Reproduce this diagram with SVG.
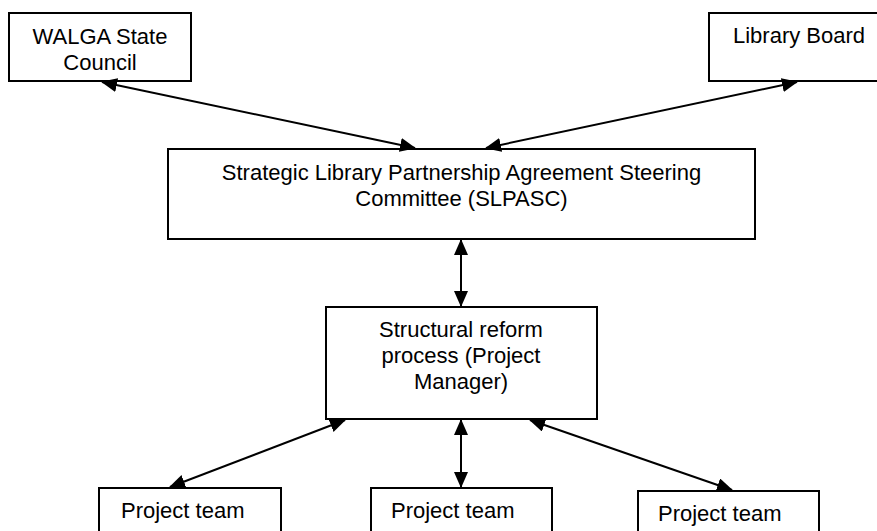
<svg xmlns="http://www.w3.org/2000/svg" width="877" height="531" viewBox="0 0 877 531">
<style>
.box{fill:#fff;stroke:#000;stroke-width:2}
.t{font-family:"Liberation Sans",Arial,sans-serif;font-size:22px;fill:#000}
.c{text-anchor:middle}
.conn line{stroke:#000;stroke-width:2;marker-start:url(#ah);marker-end:url(#ah)}
</style>
<defs>
<marker id="ah" markerUnits="userSpaceOnUse" markerWidth="16" markerHeight="14" viewBox="0 0 16 14" refX="15" refY="7" orient="auto-start-reverse">
<path d="M0,0 L16,7 L0,14 z" fill="#000"/>
</marker>
</defs>
<rect width="877" height="531" fill="#fff"/>
<g id="walga">
<rect class="box" x="9" y="13" width="182" height="68"/>
<text class="t c" x="100" y="44">WALGA State</text>
<text class="t c" x="100" y="70">Council</text>
</g>
<g id="library-board">
<rect class="box" x="709" y="13" width="185" height="68"/>
<text class="t" x="733" y="43">Library Board</text>
</g>
<g id="slpasc">
<rect class="box" x="168" y="149" width="587" height="90"/>
<text class="t c" x="461.5" y="180">Strategic Library Partnership Agreement Steering</text>
<text class="t c" x="461.5" y="206">Committee (SLPASC)</text>
</g>
<g id="structural">
<rect class="box" x="326" y="307" width="271" height="112"/>
<text class="t c" x="461" y="337">Structural reform</text>
<text class="t c" x="461" y="363">process (Project</text>
<text class="t c" x="461" y="389">Manager)</text>
</g>
<g id="team1">
<rect class="box" x="99" y="488" width="182" height="60"/>
<text class="t" x="121" y="518">Project team</text>
</g>
<g id="team2">
<rect class="box" x="371" y="488" width="181" height="60"/>
<text class="t" x="391" y="518">Project team</text>
</g>
<g id="team3">
<rect class="box" x="638" y="491" width="181" height="60"/>
<text class="t" x="658" y="521">Project team</text>
</g>
<g id="connectors" class="conn">
<line x1="102" y1="82" x2="415" y2="148"/>
<line x1="797" y1="82" x2="486" y2="148"/>
<line x1="461" y1="240" x2="461" y2="306"/>
<line x1="345" y1="420" x2="170" y2="487"/>
<line x1="461" y1="420" x2="461" y2="487"/>
<line x1="530" y1="420" x2="732" y2="490"/>
</g>
</svg>
